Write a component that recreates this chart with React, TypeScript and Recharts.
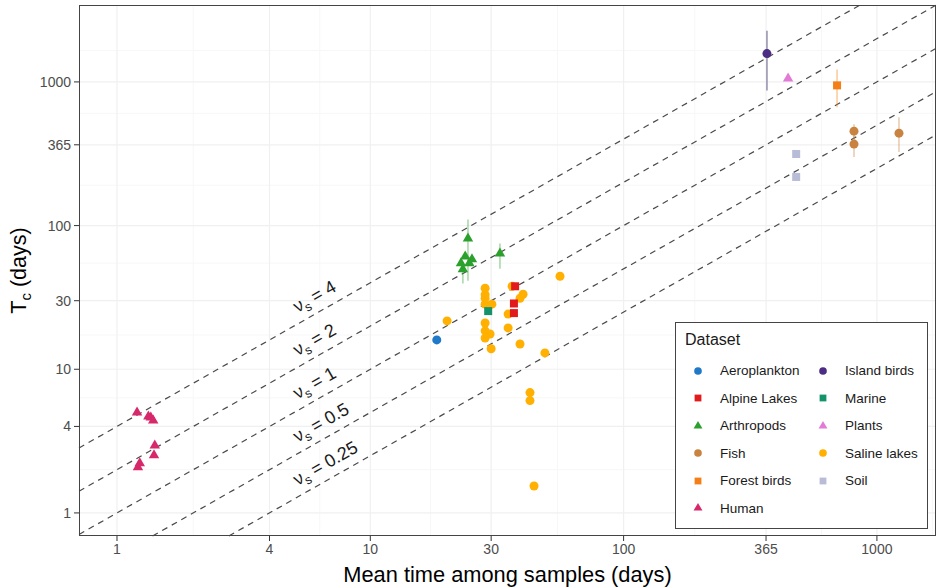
import {
  ScatterChart,
  Scatter,
  XAxis,
  YAxis,
  ReferenceLine,
  ErrorBar,
} from "recharts";

// axis settings (log scales)
const xDomain = [0.708, 1711];
const yDomain = [0.691, 3430];
const tickValues = [1, 4, 10, 30, 100, 365, 1000];
const minorValues = [2, 6.32, 17.3, 54.8, 191, 604, 1655];

// slope lines T_c = nu * t
const lineNus = [4, 2, 1, 0.5, 0.25];
const labelX = 5;

// datasets
const aeroplankton = [{ x: 18.3, y: 16.0 }];

const alpineLakes = [
  { x: 37.3, y: 37.8 },
  { x: 36.9, y: 28.7 },
  { x: 36.9, y: 24.6 },
];

const arthropods = [
  { x: 24.3, y: 81.3, err: [40, 29] },
  { x: 32.5, y: 64, err: [14, 11] },
  { x: 23.7, y: 61, err: [0, 0] },
  { x: 25.2, y: 58.2, err: [0, 0] },
  { x: 22.8, y: 54.6, err: [0, 0] },
  { x: 24.6, y: 54.6, err: [0, 0] },
  { x: 23.2, y: 49.6, err: [10, 0] },
];

const fish = [
  { x: 812, y: 454, err: [54, 54] },
  { x: 812, y: 369, err: [69, 51] },
  { x: 1222, y: 440, err: [115, 128] },
];

const forestBirds = [{ x: 696, y: 946, err: [280, 275] }];

const human = [
  { x: 1.2, y: 5.0 },
  { x: 1.33, y: 4.69 },
  { x: 1.36, y: 4.62 },
  { x: 1.39, y: 4.4 },
  { x: 1.41, y: 2.95 },
  { x: 1.4, y: 2.52 },
  { x: 1.23, y: 2.22 },
  { x: 1.21, y: 2.08 },
];

const islandBirds = [{ x: 368, y: 1574, err: [701, 697] }];

const marine = [{ x: 29.2, y: 25.4 }];

const plants = [{ x: 446, y: 1058 }];

const salineLakes = [
  { x: 20.1, y: 21.7 },
  { x: 28.4, y: 36.6 },
  { x: 28.4, y: 33.0 },
  { x: 28.4, y: 31.2 },
  { x: 28.4, y: 28.4 },
  { x: 28.4, y: 21.0 },
  { x: 28.4, y: 18.5 },
  { x: 28.4, y: 16.5 },
  { x: 29.7, y: 17.6 },
  { x: 30.2, y: 28.4 },
  { x: 30.0, y: 13.9 },
  { x: 35.0, y: 24.2 },
  { x: 35.0, y: 19.4 },
  { x: 36.3, y: 37.8 },
  { x: 39.0, y: 31.2 },
  { x: 40.1, y: 33.3 },
  { x: 39.0, y: 15.0 },
  { x: 48.9, y: 13.0 },
  { x: 42.7, y: 6.88 },
  { x: 42.7, y: 6.05 },
  { x: 56.1, y: 44.4 },
  { x: 44.3, y: 1.54 },
];

const soil = [
  { x: 480, y: 315 },
  { x: 480, y: 218 },
];

const colors: Record<string, string> = {
  Aeroplankton: "#1f78c8",
  "Alpine Lakes": "#e31a1c",
  Arthropods: "#2ca02c",
  Fish: "#c98340",
  "Forest birds": "#f57f17",
  Human: "#d6286a",
  "Island birds": "#4b2d83",
  Marine: "#14936b",
  Plants: "#e27ad6",
  "Saline lakes": "#ffb000",
  Soil: "#b9bcd6",
};

const shapes: Record<string, string> = {
  Aeroplankton: "circle",
  "Alpine Lakes": "square",
  Arthropods: "triangle",
  Fish: "circle",
  "Forest birds": "square",
  Human: "triangle",
  "Island birds": "circle",
  Marine: "square",
  Plants: "triangle",
  "Saline lakes": "circle",
  Soil: "square",
};

const legendCol1 = ["Aeroplankton", "Alpine Lakes", "Arthropods", "Fish", "Forest birds", "Human"];
const legendCol2 = ["Island birds", "Marine", "Plants", "Saline lakes", "Soil"];

function Mark({ kind, cx, cy, fill, s = 1 }: any) {
  if (kind === "square") {
    const h = 4 * s;
    return <rect x={cx - h} y={cy - h} width={2 * h} height={2 * h} fill={fill} />;
  }
  if (kind === "triangle") {
    const r = 6 * s;
    return (
      <polygon
        points={`${cx},${cy - r} ${cx - r * 0.87},${cy + r * 0.5} ${cx + r * 0.87},${cy + r * 0.5}`}
        fill={fill}
      />
    );
  }
  return <circle cx={cx} cy={cy} r={4.5 * s} fill={fill} />;
}

const shapeFor = (name: string) => (props: any) => {
  if (props.cx == null || props.cy == null) return <g />;
  return <Mark kind={shapes[name]} cx={props.cx} cy={props.cy} fill={colors[name]} />;
};

function NuLabel(props: any) {
  const { cx, cy, payload } = props;
  if (cx == null || cy == null) return <g />;
  return (
    <text
      transform={`translate(${cx},${cy}) rotate(-29.7) translate(9.5,-9.5)`}
      fontFamily="Liberation Sans, Arial, sans-serif"
      fontSize={18}
      fill="#1a1a1a"
    >
      <tspan>ν</tspan>
      <tspan dy={4} fontSize={12.5}>s</tspan>
      <tspan dy={-4}>{` = ${payload.nu}`}</tspan>
    </text>
  );
}

function YTitle(props: any) {
  const vb = props.viewBox || { x: 0, y: 5, width: 79, height: 531 };
  const cy = vb.y + vb.height / 2;
  return (
    <text
      transform={`translate(26,${cy}) rotate(-90)`}
      textAnchor="middle"
      fontFamily="Liberation Sans, Arial, sans-serif"
      fontSize={21.5}
      fill="#000"
    >
      <tspan>T</tspan>
      <tspan dy={5} fontSize={15}>c</tspan>
      <tspan dy={-5}> (days)</tspan>
    </text>
  );
}

function XTitle(props: any) {
  const vb = props.viewBox || { x: 79, y: 536, width: 857, height: 52 };
  return (
    <text
      x={vb.x + vb.width / 2}
      y={vb.y + 46}
      textAnchor="middle"
      fontFamily="Liberation Sans, Arial, sans-serif"
      fontSize={21.8}
      fill="#000"
    >
      Mean time among samples (days)
    </text>
  );
}

function LegendItem({ name }: { name: string }) {
  return (
    <div style={{ display: "flex", alignItems: "center", height: 27.5 }}>
      <svg width={24} height={14} style={{ marginRight: 11 }}>
        <Mark kind={shapes[name]} cx={13} cy={7} fill={colors[name]} s={0.85} />
      </svg>
      <span>{name}</span>
    </div>
  );
}

export default function App() {
  const nuLines = lineNus.map((nu) => {
    const x1 = Math.max(xDomain[0], yDomain[0] / nu);
    const x2 = Math.min(xDomain[1], yDomain[1] / nu);
    return { nu, seg: [{ x: x1, y: nu * x1 }, { x: x2, y: nu * x2 }] };
  });
  const nuLabels = lineNus.map((nu) => ({ x: labelX, y: nu * labelX, nu }));

  const font = "Liberation Sans, Arial, sans-serif";

  const series: [string, any[]][] = [
    ["Soil", soil],
    ["Fish", fish],
    ["Forest birds", forestBirds],
    ["Island birds", islandBirds],
    ["Plants", plants],
    ["Arthropods", arthropods],
    ["Saline lakes", salineLakes],
    ["Alpine Lakes", alpineLakes],
    ["Marine", marine],
    ["Aeroplankton", aeroplankton],
    ["Human", human],
  ];

  return (
    <div style={{ position: "absolute", left: 0, top: 0, width: 938, height: 588, background: "#fff" }}>
      <ScatterChart
        width={938}
        height={588}
        margin={{ top: 5, right: 2, bottom: 0, left: 0 }}
      >
        <XAxis
          type="number"
          dataKey="x"
          scale="log"
          domain={xDomain}
          allowDataOverflow
          ticks={tickValues}
          height={52}
          tickSize={5}
          tickMargin={3}
          tick={{ fontSize: 14, fill: "#4d4d4d", fontFamily: font }}
          axisLine={false}
          tickLine={{ stroke: "#333" }}
          label={<XTitle />}
        />
        <YAxis
          type="number"
          dataKey="y"
          scale="log"
          domain={yDomain}
          allowDataOverflow
          ticks={tickValues}
          width={79}
          tickSize={5}
          tickMargin={3}
          tick={{ fontSize: 14, fill: "#4d4d4d", fontFamily: font }}
          axisLine={false}
          tickLine={{ stroke: "#333" }}
          label={<YTitle />}
        />

        {/* grid */}
        {minorValues.map((v) => (
          <ReferenceLine key={"mx" + v} x={v} stroke="#f7f7f7" strokeWidth={1} ifOverflow="hidden" />
        ))}
        {minorValues.map((v) => (
          <ReferenceLine key={"my" + v} y={v} stroke="#f7f7f7" strokeWidth={1} ifOverflow="hidden" />
        ))}
        {tickValues.map((v) => (
          <ReferenceLine key={"gx" + v} x={v} stroke="#f0f0f0" strokeWidth={1.2} />
        ))}
        {tickValues.map((v) => (
          <ReferenceLine key={"gy" + v} y={v} stroke="#f0f0f0" strokeWidth={1.2} />
        ))}

        {/* nu lines */}
        {nuLines.map((l) => (
          <ReferenceLine
            key={"nu" + l.nu}
            segment={l.seg}
            stroke="#4a4a4a"
            strokeWidth={1.2}
            strokeDasharray="6 5"
            ifOverflow="visible"
          />
        ))}

        <Scatter
          name="labels"
          data={nuLabels}
          shape={NuLabel}
          isAnimationActive={false}
        />

        {series.map(([name, data]) => (
          <Scatter
            key={name}
            name={name}
            data={data}
            fill={colors[name]}
            shape={shapeFor(name)}
            isAnimationActive={false}
          >
            {data.length > 0 && data[0].err ? (
              <ErrorBar
                dataKey="err"
                direction="y"
                width={0}
                stroke={name === "Island birds" ? "#8f8aa6" : colors[name]}
                strokeOpacity={name === "Island birds" ? 0.9 : 0.4}
                strokeWidth={1.6}
              />
            ) : null}
          </Scatter>
        ))}
      </ScatterChart>

      {/* panel border */}
      <div
        style={{
          position: "absolute",
          left: 79,
          top: 5,
          width: 857,
          height: 531,
          border: "1px solid #444",
          boxSizing: "border-box",
          pointerEvents: "none",
        }}
      />

      {/* legend */}
      <div
        style={{
          position: "absolute",
          left: 675,
          top: 322,
          width: 253,
          height: 207,
          border: "1px solid #444",
          boxSizing: "border-box",
          background: "#fff",
          fontFamily: font,
          fontSize: 13.5,
          color: "#1a1a1a",
          padding: "8px 0 0 9px",
        }}
      >
        <div style={{ fontSize: 16, marginBottom: 8 }}>Dataset</div>
        <div style={{ display: "flex" }}>
          <div style={{ width: 125 }}>
            {legendCol1.map((n) => (
              <LegendItem key={n} name={n} />
            ))}
          </div>
          <div>
            {legendCol2.map((n) => (
              <LegendItem key={n} name={n} />
            ))}
          </div>
        </div>
      </div>
    </div>
  );
}
